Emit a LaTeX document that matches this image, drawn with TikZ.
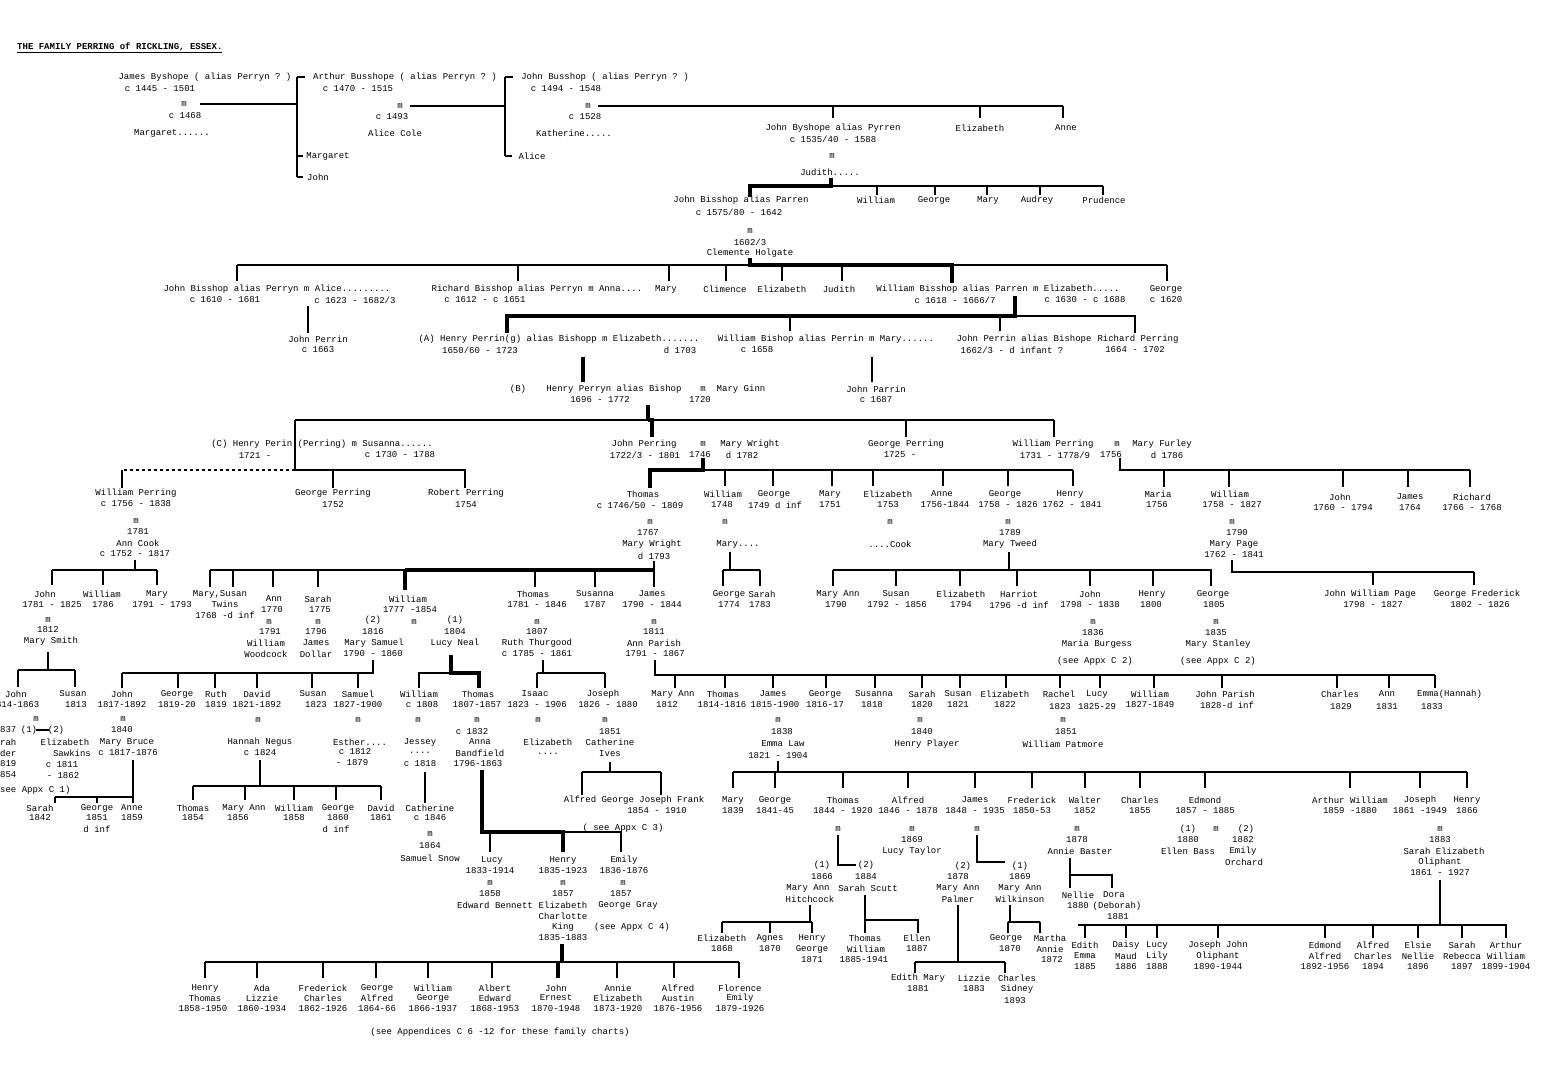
\documentclass[tikz,border=0pt]{standalone}
\usepackage{fontspec}
\setmonofont{Liberation Mono}
\newcommand\tf{\ttfamily\fontsize{9}{10}\selectfont}
\newcommand\T[3]{\node[tx] at (#1,#2) {#3};}
\begin{document}
\begin{tikzpicture}[x=1pt,y=-1pt,
 tx/.style={font=\tf,inner sep=0pt,anchor=center},
 l/.style={line width=1.1pt},
 k/.style={line width=3.6pt}]
\useasboundingbox (0,0) rectangle (1557,1080);
\clip (0,0) rectangle (1557,1080);
\fill[white] (0,0) rectangle (1557,1080);
\node[tx,anchor=west] (title) at (17,48) {\bfseries\underline{THE FAMILY PERRING of RICKLING, ESSEX.}};
% ---------- top generations
\T{205}{77}{James Byshope ( alias Perryn ? )}\T{160}{89}{c 1445 - 1501}
\T{184}{104}{m}\T{185}{116}{c 1468}\T{172}{133}{Margaret......}
\T{405}{77}{Arthur Busshope ( alias Perryn ? )}\T{358}{89}{c 1470 - 1515}
\T{400}{106}{m}\T{392}{117}{c 1493}\T{395}{133}{Alice Cole}
\T{328}{156}{Margaret}\T{318}{177}{John}
\T{605}{77}{John Busshop ( alias Perryn ? )}\T{566}{89}{c 1494 - 1548}
\T{588}{106}{m}\T{585}{117}{c 1528}\T{574}{133}{Katherine.....}
\T{532}{156}{Alice}
\draw[l] (200,104)--(297,104); \draw[l] (297,77)--(297,177);
\draw[l] (297,77)--(305,77) (297,156)--(303,156) (297,177)--(303,177);
\draw[l] (410,106)--(505,106); \draw[l] (505,77)--(505,156);
\draw[l] (505,77)--(513,77) (505,156)--(512,156);
\draw[l] (598,106)--(1063,106);
\foreach \x in {833,980,1063} \draw[l] (\x,106)--(\x,118);
\T{833}{128}{John Byshope alias Pyrren}\T{833}{139}{c 1535/40 - 1588}
\T{980}{128}{Elizabeth}\T{1066}{128}{Anne}
\T{832}{156}{m}\T{830}{172}{Judith.....}
\draw[k] (831,178)--(831,186)--(750,186)--(750,197);
\draw[l] (831,186)--(1103,186);
\foreach \x in {877,935,987,1040,1103} \draw[l] (\x,186)--(\x,195);
\T{741}{200}{John Bisshop alias Parren}\T{739}{212}{c 1575/80 - 1642}
\T{876}{200}{William}\T{934}{200}{George}\T{988}{200}{Mary}\T{1037}{200}{Audrey}\T{1104}{200}{Prudence}
\T{750}{231}{m}\T{750}{242}{1602/3}\T{750}{253}{Clemente Holgate}
\draw[k] (750,258)--(750,265)--(952,265)--(952,283);
\draw[l] (237,265)--(750,265) (952,265)--(1167,265);
\foreach \x in {237,518,669,726,782,842,1167} \draw[l] (\x,265)--(\x,281);
\T{277}{289}{John Bisshop alias Perryn m Alice.........}
\T{225}{300}{c 1610 - 1681}\T{355}{300}{c 1623 - 1682/3}
\T{537}{289}{Richard Bisshop alias Perryn m Anna....}\T{485}{300}{c 1612 - c 1651}
\T{666}{289}{Mary}\T{725}{289}{Climence}\T{782}{289}{Elizabeth}\T{839}{289}{Judith}
\T{998}{289}{William Bisshop alias Parren m Elizabeth.....}
\T{955}{300}{c 1618 - 1666/7}\T{1085}{300}{c 1630 - c 1688}
\T{1166}{289}{George}\T{1166}{300}{c 1620}
\draw[l] (308,306)--(308,333);
\T{318}{339}{John Perrin}\T{318}{350}{c  1663}
\draw[k] (1015,296)--(1015,316)--(507,316)--(507,333);
\draw[l] (1015,316)--(1135,316)--(1135,333);
\foreach \x in {790,1000} \draw[l] (\x,316)--(\x,331);
\T{559}{339}{(A)  Henry Perrin(g) alias Bishopp m Elizabeth.......}
\T{480}{350}{1650/60 - 1723}\T{680}{350}{d 1703}
\T{826}{339}{William Bishop alias Perrin m Mary......}\T{757}{350}{c 1658}
\T{1024}{339}{John Perrin alias Bishope}\T{1012}{350}{1662/3 - d infant ?}
\T{1138}{339}{Richard Perring}\T{1135}{350}{1664 - 1702}
\draw[k] (583,357)--(583,382); \draw[l] (872,357)--(872,382);
\T{518}{389}{(B)}\T{614}{389}{Henry Perryn alias Bishop}\T{703}{389}{m}\T{741}{389}{Mary Ginn}
\T{600}{400}{1696 - 1772}\T{700}{400}{1720}
\T{876}{389}{John Parrin}\T{876}{400}{c 1687}
% ---------- 18th century
\draw[k] (648,405)--(648,420);
\draw[l] (295,420)--(1054,420);
\draw[k] (648,420)--(652,420)--(652,437);
\foreach \x in {906,1054} \draw[l] (\x,420)--(\x,437);
\T{322}{444}{(C)  Henry Perin (Perring) m Susanna......}
\T{255}{455}{1721 -}\T{400}{455}{c 1730 - 1788}
\T{644}{444}{John Perring}\T{645}{455}{1722/3 - 1801}\T{703}{444}{m}\T{700}{455}{1746}
\T{750}{444}{Mary Wright}\T{742}{455}{d 1782}
\T{906}{444}{George Perring}\T{900}{455}{1725 -}
\T{1053}{444}{William Perring}\T{1055}{455}{1731 - 1778/9}
\T{1117}{444}{m}\T{1111}{455}{1756}\T{1162}{444}{Mary Furley}\T{1167}{455}{d 1786}
\draw[l] (295,420)--(295,470)--(465,470)--(465,488);
\draw[l,dashed] (295,470)--(122,470);
\draw[l] (122,470)--(122,488) (333,470)--(333,488);
\draw[k] (703,458)--(703,470)--(650,470)--(650,488);
\draw[l] (703,470)--(1073,470);
\foreach \x in {725,773,832,873,943,1008,1073} \draw[l] (\x,470)--(\x,486);
\draw[l] (1120,458)--(1120,470)--(1470,470);
\foreach \x in {1164,1229,1343,1408,1470} \draw[l] (\x,470)--(\x,487);
\T{136}{493}{William Perring}\T{136}{504}{c 1756 - 1838}
\T{333}{493}{George Perring}\T{333}{505}{1752}
\T{466}{493}{Robert Perring}\T{466}{505}{1754}
\T{643}{494}{Thomas}\T{640}{505}{c 1746/50 - 1809}
\T{723}{494}{William}\T{722}{505}{1748}
\T{774}{494}{George}\T{775}{505}{1749 d inf}
\T{830}{494}{Mary}\T{830}{505}{1751}
\T{888}{494}{Elizabeth}\T{888}{505}{1753}
\T{942}{494}{Anne}\T{945}{505}{1756-1844}
\T{1005}{494}{George}\T{1008}{505}{1758 - 1826}
\T{1070}{494}{Henry}\T{1072}{505}{1762 - 1841}
\T{1158}{494}{Maria}\T{1157}{505}{1756}
\T{1230}{494}{William}\T{1232}{505}{1758 - 1827}
\T{1340}{497}{John}\T{1343}{508}{1760 - 1794}
\T{1410}{497}{James}\T{1410}{508}{1764}
\T{1472}{497}{Richard}\T{1472}{508}{1766 - 1768}
\T{136}{521}{m}\T{138}{532}{1781}\T{138}{543}{Ann Cook}\T{135}{554}{c 1752 - 1817}
\T{650}{522}{m}\T{648}{533}{1767}\T{652}{544}{Mary Wright}\T{654}{556}{d 1793}
\T{725}{522}{m}\T{738}{544}{Mary....}
\T{890}{522}{m}\T{890}{544}{....Cook}
\T{1008}{522}{m}\T{1010}{533}{1789}\T{1010}{544}{Mary Tweed}
\T{1232}{522}{m}\T{1237}{533}{1790}\T{1234}{544}{Mary Page}\T{1234}{555}{1762 - 1841}
\draw[l] (135,560)--(135,570) (52,570)--(157,570);
\foreach \x in {52,103,157} \draw[l] (\x,570)--(\x,585);
\draw[l] (654,561)--(654,570) (210,570)--(405,570);
\draw[k] (405,570)--(654,570) (405,570)--(405,590);
\foreach \x in {210,233,273,318,535,595,654} \draw[l] (\x,570)--(\x,587);
\draw[l] (730,552)--(730,570) (723,570)--(760,570);
\foreach \x in {723,760} \draw[l] (\x,570)--(\x,586);
\draw[l] (1009,552)--(1009,570) (833,570)--(1212,570);
\foreach \x in {833,896,960,1017,1090,1153,1211} \draw[l] (\x,570)--(\x,586);
\draw[l] (1232,560)--(1232,572)--(1474,572);
\foreach \x in {1373,1474} \draw[l] (\x,572)--(\x,585);
\T{45}{594}{John}\T{52}{605}{1781 - 1825}
\T{102}{594}{William}\T{103}{605}{1786}
\T{157}{594}{Mary}\T{162}{605}{1791 - 1793}
\T{220}{594}{Mary,Susan}\T{225}{604}{Twins}\T{225}{615}{1768 -d inf}
\T{274}{599}{Ann}\T{272}{610}{1770}\T{318}{599}{Sarah}\T{320}{610}{1775}
\T{408}{599}{William}\T{410}{610}{1777 -1854}
\T{533}{594}{Thomas}\T{537}{605}{1781 - 1846}
\T{595}{594}{Susanna}\T{595}{605}{1787}
\T{652}{594}{James}\T{652}{605}{1790 - 1844}
\T{729}{594}{George}\T{729}{605}{1774}\T{762}{594}{Sarah}\T{760}{605}{1783}
\T{838}{594}{Mary Ann}\T{836}{605}{1790}
\T{896}{594}{Susan}\T{897}{605}{1792 - 1856}
\T{961}{594}{Elizabeth}\T{961}{605}{1794}
\T{1019}{594}{Harriot}\T{1019}{605}{1796 -d inf}
\T{1090}{594}{John}\T{1090}{605}{1798 - 1838}
\T{1152}{594}{Henry}\T{1151}{605}{1800}
\T{1213}{594}{George}\T{1214}{605}{1805}
\T{1370}{594}{John William Page}\T{1373}{605}{1798 - 1827}
\T{1477}{594}{George Frederick}\T{1480}{605}{1802 - 1826}
% ---------- marriages early 19th c
\T{48}{620}{m}\T{48}{630}{1812}\T{51}{641}{Mary Smith}
\T{269}{622}{m}\T{270}{632}{1791}\T{266}{643}{William}\T{266}{654}{Woodcock}
\T{318}{622}{m}\T{316}{632}{1796}\T{316}{643}{James}\T{316}{654}{Dollar}
\T{373}{620}{(2)}\T{373}{632}{1816}\T{374}{643}{Mary Samuel}\T{373}{654}{1790 - 1860}
\T{414}{622}{m}
\T{455}{620}{(1)}\T{455}{632}{1804}\T{455}{643}{Lucy Neal}
\T{537}{622}{m}\T{537}{632}{1807}\T{537}{643}{Ruth Thurgood}\T{537}{654}{c 1785 - 1861}
\T{654}{622}{m}\T{654}{632}{1811}\T{654}{643}{Ann Parish}\T{655}{654}{1791 - 1867}
\T{1093}{622}{m}\T{1093}{633}{1836}\T{1097}{644}{Maria Burgess}\T{1095}{661}{(see Appx C 2)}
\T{1216}{622}{m}\T{1216}{633}{1835}\T{1218}{644}{Mary Stanley}\T{1218}{661}{(see Appx C 2)}
\draw[l] (48,652)--(48,670) (18,670)--(75,670);
\foreach \x in {18,75} \draw[l] (\x,670)--(\x,687);
\draw[l] (373,660)--(373,673)--(122,673);
\foreach \x in {122,178,215,257,312,358} \draw[l] (\x,673)--(\x,688);
\draw[k] (451,655)--(451,673)--(479,673)--(479,688);
\draw[l] (451,673)--(419,673)--(419,688);
\draw[l] (543,660)--(543,673) (537,673)--(605,673);
\foreach \x in {537,605} \draw[l] (\x,673)--(\x,688);
\draw[l] (655,660)--(655,675)--(1435,675);
\foreach \x in {675,725,773,826,875,922,960,1006,1060,1100,1154,1222,1337,1389,1435} \draw[l] (\x,675)--(\x,688);
\T{16}{694}{John}\T{15}{705}{1814-1863}
\T{73}{694}{Susan}\T{76}{705}{1813}
\T{122}{694}{John}\T{122}{705}{1817-1892}
\T{177}{694}{George}\T{177}{705}{1819-20}
\T{216}{694}{Ruth}\T{216}{705}{1819}
\T{257}{694}{David}\T{257}{705}{1821-1892}
\T{313}{694}{Susan}\T{316}{705}{1823}
\T{358}{694}{Samuel}\T{358}{705}{1827-1900}
\T{419}{694}{William}\T{422}{705}{c 1808}
\T{478}{694}{Thomas}\T{477}{705}{1807-1857}
\T{535}{694}{Isaac}\T{537}{705}{1823 - 1906}
\T{603}{694}{Joseph}\T{608}{705}{1826 - 1880}
\T{673}{694}{Mary Ann}\T{667}{705}{1812}
\T{723}{694}{Thomas}\T{722}{705}{1814-1816}
\T{773}{694}{James}\T{775}{705}{1815-1900}
\T{825}{694}{George}\T{825}{705}{1816-17}
\T{874}{694}{Susanna}\T{872}{705}{1818}
\T{922}{694}{Sarah}\T{922}{705}{1820}
\T{958}{694}{Susan}\T{958}{705}{1821}
\T{1005}{694}{Elizabeth}\T{1005}{705}{1822}
\T{1059}{694}{Rachel}\T{1060}{707}{1823}
\T{1097}{694}{Lucy}\T{1097}{707}{1825-29}
\T{1150}{694}{William}\T{1150}{705}{1827-1849}
\T{1225}{694}{John Parish}\T{1227}{705}{1828-d inf}
\T{1340}{694}{Charles}\T{1341}{707}{1829}
\T{1387}{694}{Ann}\T{1387}{707}{1831}
\node[tx,anchor=west] at (1417,694) {Emma(Hannah)};\T{1432}{707}{1833}
% ---------- left lower
\T{36}{719}{m}
\node[tx,anchor=west] at (0,730) {837};\T{29}{730}{(1)}\T{56}{730}{(2)}
\draw[l] (36,730)--(49,730);
\node[tx,anchor=west] at (0,742) {rah};\node[tx,anchor=west] at (0,753) {der};
\node[tx,anchor=west] at (0,764) {819};\node[tx,anchor=west] at (0,775) {854};
\T{65}{742}{Elizabeth}\T{72}{753}{Sawkins}\T{62}{765}{c 1811}\T{63}{776}{- 1862}
\node[tx,anchor=west] at (0,790) {see Appx C 1)};
\T{123}{719}{m}\T{122}{730}{1840}\T{127}{742}{Mary Bruce}\T{128}{753}{c 1817-1876}
\draw[l] (133,760)--(133,803) (133,797)--(55,797);
\foreach \x in {55,97} \draw[l] (\x,797)--(\x,803);
\T{40}{808}{Sarah}\T{40}{818}{1842}
\T{97}{808}{George}\T{97}{818}{1851}\T{97}{829}{d inf}
\T{132}{808}{Anne}\T{132}{818}{1859}
\T{258}{720}{m}\T{260}{742}{Hannah Negus}\T{260}{753}{c 1824}
\draw[l] (260,760)--(260,786) (193,786)--(381,786);
\foreach \x in {193,245,294,336,381} \draw[l] (\x,786)--(\x,800);
\T{193}{808}{Thomas}\T{193}{818}{1854}
\T{244}{808}{Mary Ann}\T{238}{818}{1856}
\T{294}{808}{William}\T{294}{818}{1858}
\T{338}{808}{George}\T{338}{818}{1860}\T{336}{829}{d inf}
\T{381}{808}{David}\T{381}{818}{1861}
\T{358}{720}{m}\T{360}{742}{Esther....}\T{355}{752}{c 1812}\T{352}{763}{- 1879}
\T{418}{720}{m}\T{420}{742}{Jessey}\T{420}{753}{....}\T{420}{764}{c 1818}
\draw[l] (425,772)--(425,803);
\T{430}{808}{Catherine}\T{430}{818}{c 1846}\T{430}{834}{m}\T{430}{846}{1864}\T{430}{858}{Samuel Snow}
\T{477}{720}{m}\T{472}{732}{c 1832}\T{480}{742}{Anna}\T{480}{753}{Bandfield}\T{478}{764}{1796-1863}
\draw[k] (482,770)--(482,832)--(563,832)--(563,852);
\draw[l] (563,832)--(621,832)--(621,852) (490,832)--(490,852);
\T{492}{860}{Lucy}\T{490}{871}{1833-1914}
\T{563}{860}{Henry}\T{563}{871}{1835-1923}
\T{624}{860}{Emily}\T{624}{871}{1836-1876}
\T{490}{883}{m}\T{490}{894}{1858}\T{495}{905}{Edward Bennett}
\T{563}{883}{m}\T{563}{894}{1857}\T{563}{905}{Elizabeth}\T{563}{916}{Charlotte}\T{563}{927}{King}\T{563}{938}{1835-1883}
\T{623}{883}{m}\T{621}{894}{1857}\T{628}{905}{George Gray}\T{632}{927}{(see Appx C 4)}
\T{538}{720}{m}\T{548}{742}{Elizabeth}\T{548}{754}{....}
\T{605}{720}{m}\T{610}{732}{1851}\T{610}{742}{Catherine}\T{610}{754}{Ives}
\draw[l] (610,762)--(610,772) (582,772)--(661,772);
\foreach \x in {582,661} \draw[l] (\x,772)--(\x,795);
\T{634}{800}{Alfred George Joseph Frank}\T{657}{811}{1854 - 1910}\T{623}{828}{( see Appx C 3)}
\draw[k] (562,944)--(562,962);
\draw[l] (205,962)--(739,962);
\foreach \x in {205,257,323,376,428,492,617,674,739} \draw[l] (\x,962)--(\x,978);
\draw[k] (558,962)--(558,978);
\T{205}{988}{Henry}\T{205}{998}{Thomas}\T{203}{1009}{1858-1950}
\T{262}{988}{Ada}\T{262}{998}{Lizzie}\T{262}{1009}{1860-1934}
\T{323}{988}{Frederick}\T{323}{998}{Charles}\T{323}{1009}{1862-1926}
\T{377}{988}{George}\T{377}{998}{Alfred}\T{377}{1009}{1864-66}
\T{433}{988}{William}\T{433}{998}{George}\T{433}{1009}{1866-1937}
\T{495}{988}{Albert}\T{495}{998}{Edward}\T{495}{1009}{1868-1953}
\T{556}{988}{John}\T{556}{998}{Ernest}\T{556}{1009}{1870-1948}
\T{618}{988}{Annie}\T{618}{998}{Elizabeth}\T{618}{1009}{1873-1920}
\T{678}{988}{Alfred}\T{678}{998}{Austin}\T{678}{1009}{1876-1956}
\T{740}{988}{Florence}\T{740}{998}{Emily}\T{740}{1009}{1879-1926}
\T{500}{1032}{(see Appendices C 6 -12 for these family charts)}
% ---------- right lower
\T{778}{720}{m}\T{782}{732}{1838}\T{783}{744}{Emma Law}\T{778}{756}{1821 - 1904}
\T{920}{720}{m}\T{922}{732}{1840}\T{927}{744}{Henry Player}
\T{1063}{720}{m}\T{1066}{732}{1851}\T{1063}{744}{William Patmore}
\draw[l] (778,761)--(778,772) (733,772)--(1467,772);
\foreach \x in {733,775,843,908,975,1032,1085,1140,1205,1350,1420,1467} \draw[l] (\x,772)--(\x,788);
\T{733}{800}{Mary}\T{733}{811}{1839}
\T{775}{800}{George}\T{775}{811}{1841-45}
\T{843}{800}{Thomas}\T{843}{811}{1844 - 1920}
\T{908}{800}{Alfred}\T{908}{811}{1846 - 1878}
\T{975}{800}{James}\T{975}{811}{1848 - 1935}
\T{1032}{800}{Frederick}\T{1032}{811}{1850-53}
\T{1085}{800}{Walter}\T{1085}{811}{1852}
\T{1140}{800}{Charles}\T{1140}{811}{1855}
\T{1205}{800}{Edmond}\T{1205}{811}{1857 - 1885}
\T{1350}{800}{Arthur William}\T{1350}{811}{1859 -1880}
\T{1420}{800}{Joseph}\T{1420}{811}{1861 -1949}
\T{1467}{800}{Henry}\T{1467}{811}{1866}
\T{838}{829}{m}
\draw[l] (838,835)--(838,865)--(856,865);
\T{822}{865}{(1)}\T{866}{865}{(2)}
\T{822}{877}{1866}\T{808}{888}{Mary Ann}\T{810}{899}{Hitchcock}
\T{866}{877}{1884}\T{868}{888}{Sarah Scutt}
\T{912}{829}{m}\T{912}{840}{1869}\T{912}{851}{Lucy Taylor}
\T{977}{829}{m}
\draw[l] (977,835)--(977,862)--(1005,862);
\T{963}{866}{(2)}\T{1020}{866}{(1)}
\T{958}{877}{1878}\T{958}{888}{Mary Ann}\T{958}{899}{Palmer}
\T{1020}{877}{1869}\T{1020}{888}{Mary Ann}\T{1020}{899}{Wilkinson}
\T{1077}{829}{m}\T{1077}{840}{1878}\T{1080}{851}{Annie Baster}
\T{1188}{829}{(1)}\T{1188}{840}{1880}\T{1188}{851}{Ellen Bass}\T{1216}{829}{m}
\T{1246}{829}{(2)}\T{1243}{840}{1882}\T{1243}{851}{Emily}\T{1244}{862}{Orchard}
\T{1440}{829}{m}\T{1440}{840}{1883}\T{1444}{851}{Sarah Elizabeth}\T{1440}{862}{Oliphant}\T{1440}{873}{1861 - 1927}
\draw[l] (1070,858)--(1070,888) (1070,875)--(1112,875)--(1112,888);
\T{1078}{895}{Nellie}\T{1078}{906}{1880}
\T{1114}{895}{Dora}\T{1117}{906}{(Deborah)}\T{1118}{917}{1881}
\draw[l] (810,905)--(810,922) (722,922)--(812,922);
\foreach \x in {722,770,812} \draw[l] (\x,922)--(\x,933);
\T{722}{938}{Elizabeth}\T{722}{949}{1868}
\T{770}{938}{Agnes}\T{770}{949}{1870}
\T{812}{938}{Henry}\T{812}{949}{George}\T{812}{960}{1871}
\draw[l] (865,895)--(865,933) (865,920)--(918,920)--(918,933);
\T{865}{938}{Thomas}\T{866}{949}{William}\T{864}{960}{1885-1941}
\T{917}{938}{Ellen}\T{917}{949}{1887}
\draw[l] (958,905)--(958,962) (915,962)--(1005,962);
\foreach \x in {915,1005} \draw[l] (\x,962)--(\x,973);
\T{918}{978}{Edith Mary}\T{918}{989}{1881}
\T{974}{978}{Lizzie}\T{974}{989}{1883}
\T{1017}{978}{Charles}\T{1017}{989}{Sidney}\T{1015}{1001}{1893}
\draw[l] (1010,905)--(1010,922);
\draw[line width=2.5pt] (1008,922)--(1040,922);
\foreach \x in {1008,1040} \draw[l] (\x,922)--(\x,933);
\T{1006}{938}{George}\T{1010}{949}{1870}
\T{1050}{938}{Martha}\T{1050}{949}{Annie}\T{1052}{960}{1872}
\draw[l] (1440,880)--(1440,925) (1078,925)--(1507,925);
\foreach \x in {1085,1126,1157,1218,1325,1373,1418,1462,1506} \draw[l] (\x,925)--(\x,938);
\T{1085}{945}{Edith}\T{1085}{956}{Emma}\T{1085}{967}{1885}
\T{1126}{945}{Daisy}\T{1126}{956}{Maud}\T{1126}{967}{1886}
\T{1157}{945}{Lucy}\T{1157}{956}{Lily}\T{1157}{967}{1888}
\T{1218}{945}{Joseph  John}\T{1218}{956}{Oliphant}\T{1218}{967}{1890-1944}
\T{1325}{945}{Edmond}\T{1325}{956}{Alfred}\T{1325}{967}{1892-1956}
\T{1373}{945}{Alfred}\T{1373}{956}{Charles}\T{1373}{967}{1894}
\T{1418}{945}{Elsie}\T{1418}{956}{Nellie}\T{1418}{967}{1896}
\T{1462}{945}{Sarah}\T{1462}{956}{Rebecca}\T{1462}{967}{1897}
\T{1506}{945}{Arthur}\T{1506}{956}{William}\T{1506}{967}{1899-1904}
\end{tikzpicture}
\end{document}
